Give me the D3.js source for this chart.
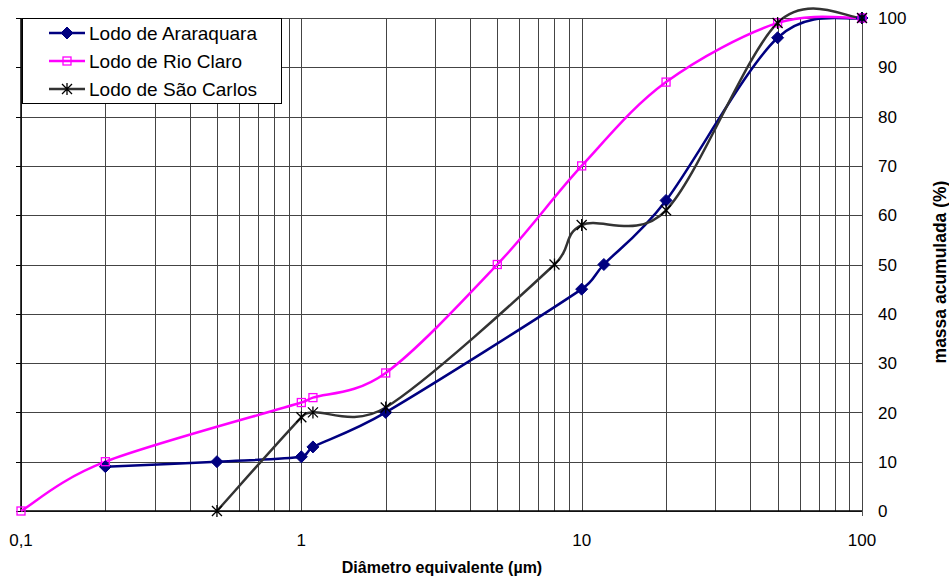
<!DOCTYPE html>
<html lang="pt">
<head>
<meta charset="UTF-8">
<title>Distribuição granulométrica</title>
<script src="https://d3js.org/d3.v7.min.js"></script>
<style>
  body { margin: 0; background: #fff; font-family: 'Liberation Sans', Arial, sans-serif; }
  svg { display: block; }
</style>
</head>
<body>
<script>
// diametros (µm) e massa acumulada (%)
const araraquaraX = [0.2, 0.5, 1, 1.1, 2, 10, 12, 20, 50, 100];
const araraquaraY = [9, 10, 11, 13, 20, 45, 50, 63, 96, 100];
const rioClaroX = [0.1, 0.2, 1, 1.1, 2, 5, 10, 20, 50, 100];
const rioClaroY = [0, 10, 22, 23, 28, 50, 70, 87, 99, 100];
const saoCarlosX = [0.5, 1, 1.1, 2, 8, 10, 20, 50, 100];
const saoCarlosY = [0, 19, 20, 21, 50, 58, 61, 99, 100];

const xTickLabels = ["0,1", "1", "10", "100"];
const yTicks = [0, 10, 20, 30, 40, 50, 60, 70, 80, 90, 100];

const series = [
  { name: "Lodo de Araraquara", xs: araraquaraX, ys: araraquaraY, color: "#000080", marker: "diamond" },
  { name: "Lodo de Rio Claro", xs: rioClaroX, ys: rioClaroY, color: "#ff00ff", marker: "square" },
  { name: "Lodo de São Carlos", xs: saoCarlosX, ys: saoCarlosY, color: "#333333", marker: "star" }
];

const W = 949, H = 578;
const m = { top: 18, right: 87, bottom: 67, left: 21 };

const svg = d3.select("body").append("svg").attr("width", W).attr("height", H);

const x = d3.scaleLog().domain([0.1, 100]).range([m.left, W - m.right]);
const y = d3.scaleLinear().domain([0, 100]).range([H - m.bottom, m.top]);

// grade
const minor = [];
[0.1, 1, 10].forEach(d => { for (let k = 1; k <= 9; k++) minor.push(d * k); });
minor.push(100);

const grid = svg.append("g");
grid.selectAll(".vg").data(minor).enter().append("line")
  .attr("x1", d => Math.round(x(d)) + 0.5).attr("x2", d => Math.round(x(d)) + 0.5)
  .attr("y1", y(100)).attr("y2", y(0))
  .attr("stroke", "#444").attr("stroke-width", 1);
grid.selectAll(".hg").data(yTicks).enter().append("line")
  .attr("x1", x(0.1)).attr("x2", x(100))
  .attr("y1", d => Math.round(y(d)) + 0.5).attr("y2", d => Math.round(y(d)) + 0.5)
  .attr("stroke", "#444").attr("stroke-width", 1);

// eixos
svg.append("line").attr("x1", x(0.1)).attr("x2", x(0.1)).attr("y1", y(100)).attr("y2", y(0))
  .attr("stroke", "#000").attr("stroke-width", 1.5);
svg.append("line").attr("x1", x(0.1)).attr("x2", x(100)).attr("y1", y(0)).attr("y2", y(0))
  .attr("stroke", "#000").attr("stroke-width", 1.5);
svg.append("g").selectAll("line").data(yTicks).enter().append("line")
  .attr("x1", x(0.1) - 5).attr("x2", x(0.1))
  .attr("y1", d => Math.round(y(d)) + 0.5).attr("y2", d => Math.round(y(d)) + 0.5)
  .attr("stroke", "#000");
svg.append("line").attr("x1", x(100) + 0.5).attr("x2", x(100) + 0.5)
  .attr("y1", y(0)).attr("y2", y(0) + 5).attr("stroke", "#555");

// rótulos eixo y (direita)
svg.append("g").selectAll("text").data(yTicks).enter().append("text")
  .attr("x", x(100) + 16).attr("y", d => y(d)).attr("dy", "0.36em")
  .attr("font-size", 17).text(d => d);

// rótulos eixo x
svg.append("g").selectAll("text").data([0.1, 1, 10, 100]).enter().append("text")
  .attr("x", d => x(d)).attr("y", y(0) + 35)
  .attr("text-anchor", "middle").attr("font-size", 17)
  .text((d, i) => xTickLabels[i]);

svg.append("text").attr("x", 442).attr("y", 573)
  .attr("text-anchor", "middle").attr("font-size", 16).attr("font-weight", "bold")
  .text("Diâmetro equivalente (µm)");

svg.append("text").attr("transform", `translate(946,272) rotate(-90)`)
  .attr("text-anchor", "middle").attr("font-size", 17.5).attr("font-weight", "bold")
  .text("massa acumulada (%)");

// marcadores
function drawMarker(g, type, color) {
  if (type === "diamond") {
    g.append("path").attr("d", "M0,-6L6,0L0,6L-6,0Z").attr("fill", color).attr("stroke", color);
  } else if (type === "square") {
    g.append("rect").attr("x", -4).attr("y", -4).attr("width", 8).attr("height", 8)
      .attr("fill", "none").attr("stroke", color).attr("stroke-width", 1.3);
  } else {
    g.append("path").attr("d", "M-5,-5L5,5M-5,5L5,-5M0,-6L0,6")
      .attr("fill", "none").attr("stroke", "#000").attr("stroke-width", 1.3);
  }
}

// suavização tipo planilha: bezier com tangente 1/6, limitada a metade do segmento
function smooth(pts) {
  const p = d3.path();
  const dist = (a, b) => Math.hypot(b[0] - a[0], b[1] - a[1]);
  const n = pts.length;
  p.moveTo(pts[0][0], pts[0][1]);
  for (let i = 0; i < n - 1; i++) {
    const p0 = pts[Math.max(i - 1, 0)], p1 = pts[i], p2 = pts[i + 1], p3 = pts[Math.min(i + 2, n - 1)];
    const d02 = dist(p0, p2), d12 = dist(p1, p2), d13 = dist(p1, p3);
    let f0 = 1 / 6, f3 = 1 / 6;
    if (d02 / 6 >= d12 / 2 && d02 > 0) f0 = d12 / (2 * d02);
    if (d13 / 6 >= d12 / 2 && d13 > 0) f3 = d12 / (2 * d13);
    p.bezierCurveTo(
      p1[0] + f0 * (p2[0] - p0[0]), p1[1] + f0 * (p2[1] - p0[1]),
      p2[0] - f3 * (p3[0] - p1[0]), p2[1] - f3 * (p3[1] - p1[1]),
      p2[0], p2[1]);
  }
  return p.toString();
}

series.forEach(s => {
  const pts = s.xs.map((v, i) => [x(v), y(s.ys[i])]);
  svg.append("path").attr("d", smooth(pts))
    .attr("fill", "none").attr("stroke", s.color).attr("stroke-width", 2.5);
});
series.forEach(s => {
  s.xs.forEach((v, i) => {
    const g = svg.append("g").attr("transform", `translate(${x(v)},${y(s.ys[i])})`);
    drawMarker(g, s.marker, s.color);
  });
});

// legenda
const leg = svg.append("g");
leg.append("rect").attr("x", 22.5).attr("y", 18.5).attr("width", 259).attr("height", 85)
  .attr("fill", "#fff").attr("stroke", "#000");
series.forEach((s, i) => {
  const ly = 33 + i * 28;
  leg.append("line").attr("x1", 49).attr("x2", 85).attr("y1", ly).attr("y2", ly)
    .attr("stroke", s.color).attr("stroke-width", 2.5);
  drawMarker(leg.append("g").attr("transform", `translate(67,${ly})`), s.marker, s.color);
  leg.append("text").attr("x", 89).attr("y", ly).attr("dy", "0.36em")
    .attr("font-size", 19).text(s.name);
});
</script>
</body>
</html>
